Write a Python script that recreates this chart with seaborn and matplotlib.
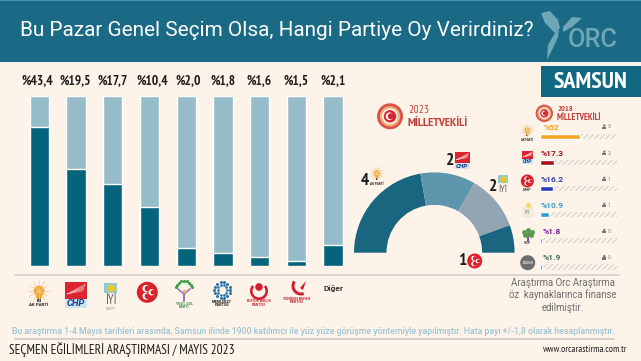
import numpy as np
import pandas as pd
import matplotlib
matplotlib.use("Agg")
import matplotlib.pyplot as plt
from matplotlib.patches import Circle, Rectangle, Polygon, Wedge
import seaborn as sns

# ---------- data ----------
parties = ["AK Parti", "CHP", "İYİ", "MHP", "YSP", "Memleket", "BBP", "YRP", "Diğer"]
vote_labels = ["%43,4", "%19,5", "%17,7", "%10,4", "%2,0", "%1,8", "%1,6", "%1,5", "%2,1"]
bar_fill = [81.4, 56.7, 48.0, 34.5, 10.6, 7.6, 4.9, 2.5, 12.2]   # drawn height, % of the track
track_full = [100] * 9

seat_parties = ["AK Parti", "CHP", "İYİ", "MHP"]
seats_2023 = [4, 2, 2, 1]

parties_2018 = ["AK Parti", "CHP", "MHP", "İYİ", "HDP", "Diğer"]
votes_2018 = [52, 17.3, 16.2, 10.9, 1.8, 1.9]
labels_2018 = ["%52", "%17.3", "%16.2", "%10.9", "%1.8", "%1.9"]
seats_2018 = [5, 2, 1, 1, 0, 0]
colors_2018 = ["#f5a623", "#a8101c", "#2f3db4", "#2f9fc9", "#7a1fa2", "#3d6e5c"]

TITLE = "Bu Pazar Genel Seçim Olsa, Hangi Partiye Oy Verirdiniz?"
FOOT = ("Bu araştırma 1-4 Mayıs tarihleri arasında, Samsun ilinde 1900 katılımcı ile yüz yüze "
        "görüşme yöntemiyle yapılmıştır. Hata payı +/-1,8 olarak hesaplanmıştır.")

# ---------- style ----------
W, H = 641, 361
BG = "#fdf3e9"; HEAD = "#1a6a86"; DARK = "#05637c"; LIGHT = "#96bcc9"; RED = "#d8232a"
sns.set_theme(style="white", rc={"hatch.linewidth": 0.7})
NARROW = ["PT Sans Narrow", "Roboto Condensed", "DejaVu Sans"]
plt.rcParams["font.family"] = ["Roboto", "DejaVu Sans"]

fig = plt.figure(figsize=(W / 100, H / 100), dpi=100, facecolor=BG)

def ax_px(x0, y0, x1, y1, z=2):
    a = fig.add_axes([x0 / W, 1 - y1 / H, (x1 - x0) / W, (y1 - y0) / H], zorder=z)
    a.patch.set_alpha(0)
    return a

bg = ax_px(0, 0, W, H, 1); bg.set_xlim(0, W); bg.set_ylim(H, 0); bg.axis("off")
ov = ax_px(0, 0, W, H, 5); ov.set_xlim(0, W); ov.set_ylim(H, 0); ov.axis("off")
rend = fig.canvas.get_renderer()

def T(x, y, s, width=None, size=7, color="#222", weight="normal", ha="center", fam=None, style="normal", a=ov):
    t = a.text(x, y, s, fontsize=size, color=color, fontweight=weight, ha=ha, va="center",
               family=fam or plt.rcParams["font.family"], style=style)
    if width:
        t.set_fontsize(size * width / t.get_window_extent(rend).width)
    return t

# ---------- header ----------
bg.add_patch(Rectangle((0, 0), W, 61.5, color=HEAD, lw=0))
bg.add_patch(Rectangle((0, 0), W, 1.2, color="#4d93a9", lw=0))
T(20, 31, TITLE, width=513, size=16, color="white", ha="left")
LOGO = "#6fa6b6"
for pts in ([(541, 13), (550, 11), (558, 20), (560, 28), (555, 33), (545, 23)],
            [(563, 27), (572, 17), (582, 18), (572, 27), (563, 32)],
            [(547, 60), (548, 45), (555, 33), (559, 29), (558, 37), (553, 48)]):
    ov.add_patch(Polygon(pts, color=LOGO, lw=0))
T(568, 40, "ORC", width=50, size=15, color=LOGO, ha="left", weight="medium")
bg.add_patch(Rectangle((541, 66), 100, 31, color="#0f6880", lw=0))
T(591, 82, "SAMSUN", width=74, size=14, color="white", weight="bold", fam=NARROW)

# ---------- main bars ----------
ax = ax_px(21, 95.7, 351.4, 265.7, 3)
df = pd.DataFrame({"party": parties, "track": track_full, "fill": bar_fill})
sns.barplot(data=df, x="party", y="track", color=LIGHT, width=0.526, saturation=1, ax=ax)
sns.barplot(data=df, x="party", y="fill", color=DARK, width=0.526, saturation=1, ax=ax)
ax.set_xlim(-0.5, 8.5); ax.set_ylim(0, 100); ax.axis("off")
label_nudge = [-2, -1, 0, 3, 2, 0, 0, 0, 0]
for i, lab in enumerate(vote_labels):
    T(39.3 + 36.7 * i + label_nudge[i], 80.7, lab, size=9.6, color="#1c1c1c", weight="bold", fam=NARROW)
ov.plot([15, 619], [275, 275], color="#d5d3cf", lw=1.3)

# ---------- logos ----------
def akp(x, y, s=1.0, text=True):
    for ang in np.arange(0, 360, 30):
        r = np.radians(ang)
        ov.plot([x, x + 11 * s * np.cos(r)], [y - 1 * s, y - 1 * s + 11 * s * np.sin(r)],
                color="#f3c98b", lw=0.5)
    ov.add_patch(Circle((x, y - 1 * s), 5.4 * s, color="#f1a02f", lw=0))
    ov.add_patch(Polygon([(x - 3.6 * s, y + 2.5 * s), (x + 3.6 * s, y + 2.5 * s), (x + 2 * s, y + 7 * s), (x - 2 * s, y + 7 * s)], color="#f1a02f", lw=0))
    ov.add_patch(Rectangle((x - 2 * s, y + 7 * s), 4 * s, 2.6 * s, color="#555", lw=0))
    if text:
        T(x, y + 13.5 * s, "AK PARTİ", size=3.2 * s, color="#222", weight="bold")

def chp(x0, y0, w, s=1.0):
    h1, h2 = w * 0.77, w * 0.41
    ov.add_patch(Rectangle((x0, y0), w, h1, color="#dc2430", lw=0))
    for k in range(6):
        ov.plot([x0 + w * 0.1, x0 + w * (0.95 - k * 0.02)], [y0 + h1 * 0.7, y0 + h1 * (0.1 + k * 0.08)], color="#f6c8c8", lw=0.35)
    ov.add_patch(Rectangle((x0, y0 + h1), w, h2, color="#cfe4ef", lw=0))
    T(x0 + w / 2, y0 + h1 + h2 / 2, "CHP", width=w * 0.85, size=7, color="#17408b", weight="bold", style="italic")

def iyi(x0, y0, w, text=True):
    ov.add_patch(Rectangle((x0, y0), w, w * 0.82, color="#8fc9d8", lw=0))
    cx, cy = x0 + w / 2, y0 + w * 0.41
    ov.scatter([cx], [cy], marker=(12, 1, 0), s=(w * 0.75) ** 2 * 0.9, color="#e3c92f", lw=0, zorder=6)
    T(cx, y0 + w * 1.42, "İYİ", width=w * 0.95, size=8, color="#666", fam=NARROW)

def mhp(x, y, r):
    ov.add_patch(Circle((x, y), r, color=RED, lw=0))
    for dy in (-0.36, 0.36):
        ov.add_patch(Circle((x - r * 0.12, y + dy * r), r * 0.34, color="white", lw=0, zorder=6))
        ov.add_patch(Circle((x + r * 0.02, y + dy * r), r * 0.27, color=RED, lw=0, zorder=6))
    ov.add_patch(Circle((x + r * 0.42, y), r * 0.3, color="white", lw=0, zorder=6))
    ov.add_patch(Circle((x + r * 0.53, y), r * 0.22, color=RED, lw=0, zorder=6))

def emblem(x, y, r):
    ov.add_patch(Circle((x, y), r, color="#d9534a", lw=0))
    ov.add_patch(Circle((x, y), r * 0.78, color="#efb27c", lw=0))
    ov.add_patch(Circle((x, y), r * 0.6, color="white", lw=0))
    ov.add_patch(Circle((x, y), r * 0.48, color=RED, lw=0))
    ov.add_patch(Circle((x - r * 0.03, y), r * 0.3, color="white", lw=0))
    ov.add_patch(Circle((x + r * 0.07, y), r * 0.24, color=RED, lw=0))

akp(39, 292)
chp(65, 282.3, 21.7)
iyi(104.3, 283, 12.4)
T(110.5, 308.5, "PARTİ", size=2.5, color="#999")
mhp(147.3, 292.3, 10.5)

# YSP
ysp_cx, ysp_cy = 184, 290
for a_ in np.linspace(200, 340, 9):
    r_ = np.radians(a_)
    ov.scatter(ysp_cx + 9 * np.cos(r_), ysp_cy + 9 * np.sin(r_), s=5, color="#3f9e4a", lw=0, zorder=6)
ov.plot([ysp_cx - 6, ysp_cx, ysp_cx + 6], [ysp_cy - 1, ysp_cy + 4, ysp_cy - 1], color="#a06cc0", lw=1.2)
ov.plot([ysp_cx, ysp_cx], [ysp_cy + 4, ysp_cy + 11], color="#a06cc0", lw=1.4)
ov.scatter(ysp_cx, ysp_cy + 1, s=6, color="#e8c23a", lw=0, zorder=6)
T(ysp_cx, 304, "YEŞİL SOL", size=2.6, color="#3f8e4a", weight="bold")
T(ysp_cx, 307.5, "PARTİ", size=2.6, color="#3f8e4a", weight="bold")

# Memleket
m_cx, m_cy = 222.3, 290
for rad, n, sz in ((8, 14, 4.5), (4.8, 10, 3.5)):
    for a_ in np.linspace(0, 2 * np.pi, n, endpoint=False):
        ov.scatter(m_cx + rad * np.cos(a_), m_cy + rad * np.sin(a_), s=sz, color="#1f6fa8", lw=0, zorder=6)
T(m_cx, 302, "MEMLEKET", size=2.8, color="#222", weight="bold")
T(m_cx, 305.5, "PARTİSİ", size=2.8, color="#222", weight="bold")

# BBP
ov.add_patch(Wedge((259, 291), 9, 320, 220, width=2.6, color="#d02030", lw=0, transform=ov.transData))
ov.add_patch(Circle((259, 287), 3.8, color="#d02030", lw=0))
T(259, 301.5, "BÜYÜK BİRLİK", size=2.6, color="#c8202c", weight="bold")
T(259, 305, "PARTİSİ", size=2.6, color="#c8202c", weight="bold")

# YRP
ov.add_patch(Wedge((301, 286), 9.5, 70, 215, width=3, color="#d02030", lw=0))
ov.add_patch(Polygon([(300, 288), (306, 281), (303, 290)], color="#d02030", lw=0))
T(296.7, 298.5, "YENİDEN REFAH", size=2.6, color="#c8202c", weight="bold")
T(296.7, 302, "PARTİSİ", size=2.6, color="#c8202c", weight="bold")

T(333, 289, "Diğer", width=20, size=7, color="#333", weight="bold")

# ---------- parliament arc 2023 ----------
cx, cy, R, r_in = 434.3, 252.7, 80.3, 47.8
pie_ax = ax_px(cx - R, cy - R, cx + R, cy + R, 3)
pie_colors = ["#1a6580", "#5e97ad", "#93a5b3", "#1a6580"]
pie_vals = seats_2023 + [sum(seats_2023)]
wedges, _ = pie_ax.pie(pie_vals, colors=pie_colors + ["none"], startangle=180, counterclock=False,
                       radius=1, wedgeprops=dict(width=1 - r_in / R, linewidth=0))
pie_ax.set_xlim(-1, 1); pie_ax.set_ylim(-1, 1)

emblem(390, 116.3, 13)
T(408, 110, "2023", width=21, size=9, color="#c2403c", ha="left", fam=NARROW)
T(408, 122.5, "MİLLETVEKİLİ", width=61, size=9, color="#c2403c", ha="left", weight="bold", fam=NARROW)

SEAT = dict(size=12.5, color="#1c1c1c", weight="bold", fam=NARROW)
T(364.7, 181, str(seats_2023[0]), **SEAT)
akp(377, 174, 0.62, text=False)
T(377, 184, "AK PARTİ", size=2.2, color="#222", weight="bold")
T(450, 161, str(seats_2023[1]), **SEAT)
chp(455, 152, 14.5)
T(493, 187, str(seats_2023[2]), **SEAT)
iyi(497.7, 175, 10)
T(462, 261, str(seats_2023[3]), **SEAT)
mhp(474.7, 261, 7.5)

# ---------- 2018 panel ----------
emblem(544.3, 113.3, 8.7)
T(557, 109.7, "2018", width=16, size=7, color="#c2403c", ha="left", weight="bold", fam=NARROW)
T(557, 117.5, "MİLLETVEKİLİ", width=45, size=7, color="#c2403c", ha="left", weight="bold", fam=NARROW)

h_ax = ax_px(540.3, 123.3, 616.7, 280, 3)
d18 = pd.DataFrame({"party": parties_2018, "vote": votes_2018, "full": [100] * 6})
sns.barplot(data=d18, y="party", x="full", orient="h", color=BG, edgecolor="#cfcbc6",
            hatch="//////", linewidth=0, width=0.2, saturation=1, ax=h_ax)
sns.barplot(data=d18, y="party", x="vote", orient="h", hue="party", palette=colors_2018, legend=False,
            width=0.2, saturation=1, ax=h_ax)
h_ax.set_xlim(0, 100); h_ax.set_ylim(5.5, -0.5); h_ax.axis("off")

label_x = [544, 540.7, 540.7, 540.7, 542.7, 542.7]
for i, (lab, col, st) in enumerate(zip(labels_2018, colors_2018, seats_2018)):
    y = 127 + 26.1 * i
    T(label_x[i], y, lab, size=6, color=col, weight="bold", ha="left")
    ov.add_patch(Circle((604.3, y - 1.4), 1.2, color="#777", lw=0))
    ov.add_patch(Rectangle((602.2, y - 0.2), 4.2, 2.2, color="#777", lw=0))
    T(609.3, y, str(st), size=3.8, color="#888")

akp(527.3, 131, 0.55, text=False)
T(527.3, 140, "AK PARTİ", size=2, color="#222", weight="bold")
chp(522, 151, 11)
mhp(527.3, 181, 6.5)
T(527.3, 190, "MHP", size=2.8, color="#444", weight="bold")
ov.scatter(527.5, 205, marker=(12, 1, 0), s=28, color="#f0df5a", lw=0, zorder=6)
ov.add_patch(Rectangle((522.5, 207), 10, 10, color="#f7eddc", ec="#ddd", lw=0.3))
T(527.5, 212, "İYİ", size=3.5, color="#776")
for dx, dy in ((-4, -3), (0, -5), (4, -3), (-3, 0), (3, 0), (0, -1)):
    ov.scatter(527.7 + dx, 235 + dy, s=12, color="#5b9a4c", lw=0, zorder=6)
ov.plot([527.7, 527.7], [235, 241], color="#7a3f9c", lw=1.3)
T(527.7, 243.5, "HDP", size=2.5, color="#555", weight="bold")
ov.add_patch(Circle((527.7, 262.7), 7.5, color="#6d6d6d", lw=0))
T(527.7, 262.7, "DİĞER", size=2.8, color="#ddd", weight="bold")

# ---------- footer ----------
for y_, s_ in ((282.7, "Araştırma Orc Araştırma"), (295, "öz  kaynaklarınca finanse"), (308, "edilmiştir.")):
    T(563, y_, s_, size=6.9, color="#6e6e6e")
T(12, 331, FOOT, width=612, size=6, color="#9cc5d2", ha="left", weight="medium")
ov.plot([15, 614], [339.3, 339.3], color="#d0cec9", lw=1.3)
T(9, 350, "SEÇMEN EĞİLİMLERİ ARAŞTIRMASI / MAYIS 2023", width=225, size=10, color="#1c1c1c", ha="left", fam=NARROW)
T(543, 350, "www.orcarastirma.com.tr", width=85, size=6, color="#222", ha="left", fam=NARROW)

fig.savefig("out.png", dpi=100, facecolor=BG)
